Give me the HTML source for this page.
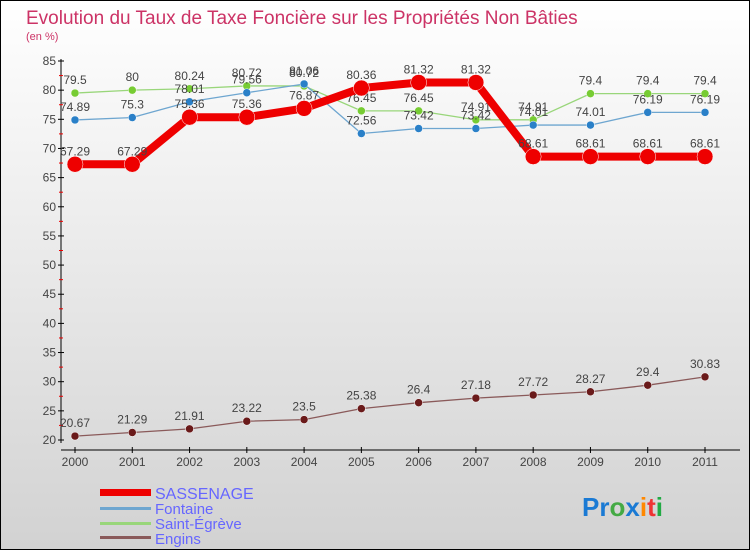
<!DOCTYPE html>
<html><head><meta charset="utf-8"><style>
body{margin:0;width:750px;height:550px;overflow:hidden;font-family:"Liberation Sans",sans-serif}
</style></head><body>
<svg id="c" width="750" height="550" xmlns="http://www.w3.org/2000/svg">
<defs><linearGradient id="bg" x1="0" y1="0" x2="0" y2="1"><stop offset="0" stop-color="#ffffff"/><stop offset="1" stop-color="#d2d2d2"/></linearGradient></defs>
<rect x="0.5" y="0.5" width="749" height="549" fill="url(#bg)" stroke="#000"/>
<text x="26" y="24" font-size="19" fill="#cc3366">Evolution du Taux de Taxe Foncière sur les Propriétés Non Bâties</text>
<text x="26" y="40" font-size="11" fill="#cc3366">(en %)</text>
<g id="axes"></g><g id="series"></g>
<g>
<rect x="100" y="489" width="51" height="7" fill="#ee0000"/>
<text x="155" y="499" font-size="16" fill="#6666ff">SASSENAGE</text>
<rect x="100" y="507" width="51" height="3" fill="#6ea6d0"/>
<text x="155" y="514" font-size="15" fill="#6666ff">Fontaine</text>
<rect x="100" y="522" width="51" height="3" fill="#99d67a"/>
<text x="155" y="529" font-size="15" fill="#6666ff">Saint-Égrève</text>
<rect x="100" y="536" width="51" height="3" fill="#8a5a5a"/>
<text x="155" y="544" font-size="15" fill="#6666ff">Engins</text>
</g>
<g font-size="26" font-weight="bold">
<text x="582" y="516"><tspan fill="#1a7ad4">Pr</tspan><tspan fill="#44aa44">o</tspan><tspan fill="#1a7ad4">x</tspan><tspan fill="#ff8800">i</tspan><tspan fill="#ee3333">t</tspan><tspan fill="#22aa44">i</tspan></text>
</g>
</svg>
<script>
const years=["2000","2001","2002","2003","2004","2005","2006","2007","2008","2009","2010","2011"];
const sassenage=[67.29,67.29,75.36,75.36,76.87,80.36,81.32,81.32,68.61,68.61,68.61,68.61];
const fontaine=[74.89,75.3,78.01,79.56,81.06,72.56,73.42,73.42,74.01,74.01,76.19,76.19];
const saintEgreve=[79.5,80,80.24,80.72,80.72,76.45,76.45,74.91,74.91,79.4,79.4,79.4];
const engins=[20.67,21.29,21.91,23.22,23.5,25.38,26.4,27.18,27.72,28.27,29.4,30.83];
const yTicks=[20,25,30,35,40,45,50,55,60,65,70,75,80,85];
const NS="http://www.w3.org/2000/svg";
const xScale=i=>75+i*(630/11);
const yScale=v=>440-(v-20)*(379/65);
function mk(tag,attrs,parent){const e=document.createElementNS(NS,tag);for(const k in attrs)e.setAttribute(k,attrs[k]);parent.appendChild(e);return e;}
const ax=document.getElementById('axes');
let yl=mk('line',{x1:61,y1:59,x2:61,y2:443,stroke:'#000','stroke-width':1},ax);


let xl=mk('line',{x1:61,y1:450,x2:740,y2:450,stroke:'#000','stroke-width':1},ax);


yTicks.forEach((t,i)=>{const y=yScale(t);
 mk('line',{x1:58,y1:y,x2:64,y2:y,stroke:'#000'},ax);
 const tx=mk('text',{x:56,y:y+4,'text-anchor':'end','font-size':12,fill:'#444'},ax);tx.textContent=t;
 
 
 if(i<yTicks.length-1){const m=yScale(t+2.5);mk('line',{x1:59,y1:m,x2:63,y2:m,stroke:'#e00'},ax);}
});
years.forEach((yr,i)=>{const x=xScale(i);
 mk('line',{x1:x,y1:447,x2:x,y2:453,stroke:'#000'},ax);
 const tx=mk('text',{x:x,y:466,'text-anchor':'middle','font-size':12,fill:'#444'},ax);tx.textContent=yr;
 
 
});
const sg=document.getElementById('series');
function draw(vals,name,color,lw,r,dot){
 const g=mk('g',{},sg);
 
 
 mk('polyline',{points:vals.map((v,i)=>xScale(i)+','+yScale(v)).join(' '),fill:'none',stroke:color,'stroke-width':lw,'stroke-linejoin':'round'},g);
 vals.forEach((v,i)=>{
  const c=mk('circle',{cx:xScale(i),cy:yScale(v),r:r,fill:dot,stroke:'#fff','stroke-width':0.5},g);
  
  
  const t=mk('text',{x:xScale(i),y:yScale(v)-9,'text-anchor':'middle','font-size':12,fill:'#444'},g);t.textContent=v;
  
  
 });
}
draw(saintEgreve,'saint-egreve','#99d67a',1.3,4,'#77cc33');
draw(fontaine,'fontaine','#6ea6d0',1.3,4,'#2a80c8');
draw(sassenage,'sassenage','#ee0000',8,8,'#ee0000');
draw(engins,'engins','#8a5a5a',1.3,4,'#6a1a1a');
</script>
</body></html>
